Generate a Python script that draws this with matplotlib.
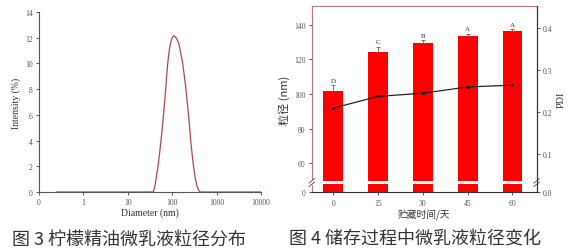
import numpy as np
import matplotlib
matplotlib.use("Agg")
import matplotlib.pyplot as plt

plt.rcParams['font.family'] = ['Liberation Serif', 'Noto Sans CJK SC', 'DejaVu Sans']

# ---- data: figure 3 (size distribution) ----
diameter_nm = [0.25, 37.5, 41, 44, 47.9, 52, 55.9, 60, 63.7, 67.5, 71.4, 75, 79.3, 85,
               91.6, 100, 108, 115, 125, 142, 156, 172, 188, 204, 218, 233, 247, 261,
               280, 302, 330, 365, 400, 423, 10000]
intensity_pct = [0, 0, 0.5, 1.2, 2, 3, 4, 5, 6, 7, 8, 9, 10, 10.9,
                 11.6, 12.0, 12.15, 12.1, 11.95, 11.5, 10.8, 10, 9, 8, 7, 6, 5, 4,
                 3, 2, 1.1, 0.4, 0.1, 0, 0]
dist_xticks = [0.1, 1, 10, 100, 1000, 10000]
dist_xticklabels = ["0", "1", "10", "100", "1000", "10000"]
dist_yticks = [0, 2, 4, 6, 8, 10, 12, 14]

# ---- data: figure 4 (storage) ----
days = [0, 15, 30, 45, 60]
size_nm = [101.9, 124.4, 129.2, 133.7, 136.5]
size_err = [3.2, 3.0, 1.8, 1.2, 1.0]
letters = ["D", "C", "B", "A", "A"]
pdi = [0.209, 0.237, 0.2445, 0.2595, 0.2636]
size_yticks = [0, 60, 80, 100, 120, 140]
pdi_yticks = [0.0, 0.1, 0.2, 0.3, 0.4]

W, H = 569, 253
fig = plt.figure(figsize=(W / 100, H / 100), dpi=100)

def rect(l, t, r, b):
    return [l / W, 1 - b / H, (r - l) / W, (b - t) / H]

tick_col = '#555555'
tfs = 5.5

# ---------------- left chart ----------------
ax1 = fig.add_axes(rect(39, 13, 261, 193))
ax1.plot(diameter_nm, intensity_pct, color='#b04848', lw=0.9)
ax1.set_xscale('log')
ax1.set_xlim(0.1, 10000)
ax1.set_ylim(0, 14)
ax1.set_xticks(dist_xticks)
ax1.set_xticklabels(dist_xticklabels)
ax1.xaxis.set_minor_locator(matplotlib.ticker.NullLocator())
ax1.set_yticks(dist_yticks)
for s in ['top', 'right']:
    ax1.spines[s].set_visible(False)
for s in ['left', 'bottom']:
    ax1.spines[s].set_color('#555555')
    ax1.spines[s].set_linewidth(0.8)
ax1.tick_params(labelsize=tfs, colors=tick_col, length=2.5, width=0.7, pad=2)
ax1.set_xlabel('Diameter (nm)', fontsize=7, color='#333333', labelpad=1)
ax1.set_ylabel('Intensity (%)', fontsize=7, color='#333333', labelpad=3)

# ---------------- right chart ----------------
def f_left(v):
    v = np.asarray(v, dtype=float)
    return np.where(v <= 40, v * 0.2,
                    np.where(v <= 50, 8 + (v - 40) * 0.35, 11.5 + (v - 50) * 1.7325))

def i_left(p):
    p = np.asarray(p, dtype=float)
    return np.where(p <= 8, p / 0.2,
                    np.where(p <= 11.5, 40 + (p - 8) / 0.35, 50 + (p - 11.5) / 1.7325))

def f_right(v):
    v = np.asarray(v, dtype=float)
    return np.where(v <= 0.035, v * (11 / 0.035), 11 + (v - 0.035) * 420)

def i_right(p):
    p = np.asarray(p, dtype=float)
    return np.where(p <= 11, p * (0.035 / 11), 0.035 + (p - 11) / 420)

ax2 = fig.add_axes(rect(311.7, 7, 536.7, 193.3))
ax2.set_yscale('function', functions=(f_left, i_left))
ax2.set_ylim(0, 150.8)
ax2.set_xlim(-7.2, 68.1)

bw = 6.67
red = '#ff0000'
ax2.bar(days, [40] * len(days), bottom=0, width=bw, color=red, zorder=2)
ax2.bar(days, [v - 50 for v in size_nm], bottom=50, width=bw, color=red, zorder=2)
ax2.errorbar(days, size_nm, yerr=[[0] * len(days), size_err], fmt='none',
             ecolor='#aa4444', elinewidth=0.6, capsize=1.5, capthick=0.6, zorder=3)
for d, v, e, l in zip(days, size_nm, size_err, letters):
    ax2.text(d, v + e + 1.2, l, ha='center', va='bottom', fontsize=5, color='#333333')

ax2.set_yticks(size_yticks)
ax2.set_xticks(days)
ax2.yaxis.set_minor_locator(matplotlib.ticker.NullLocator())
ax2.tick_params(labelsize=tfs, colors=tick_col, length=2.5, width=0.7, pad=2)
ax2.spines['top'].set_color('#c07080')
ax2.spines['left'].set_color('#c07080')
ax2.spines['bottom'].set_color('#333333')
ax2.spines['right'].set_color('#333333')
for s in ax2.spines.values():
    s.set_linewidth(0.8)
ax2.set_ylabel('粒径 (nm)', fontsize=8, color='#333333', labelpad=3,
               family=['Noto Sans CJK SC', 'Liberation Serif'])
ax2.set_xlabel('贮藏时间/天', fontsize=7, color='#333333', labelpad=2,
               family=['Noto Sans CJK SC', 'Liberation Serif'])

ax3 = ax2.twinx()
ax3.set_yscale('function', functions=(f_right, i_right))
ax3.set_ylim(0, 0.452)
ax3.plot(days, pdi, color='#222222', lw=0.9, marker='s', ms=1.3, zorder=4)
ax3.set_yticks(pdi_yticks)
ax3.set_yticklabels(['0.0', '0.1', '0.2', '0.3', '0.4'])
ax3.yaxis.set_minor_locator(matplotlib.ticker.NullLocator())
ax3.tick_params(labelsize=tfs, colors=tick_col, length=2.5, width=0.7, pad=2)
for s in ax3.spines.values():
    s.set_visible(False)
ax3.spines['right'].set_visible(True)
ax3.spines['right'].set_color('#333333')
ax3.spines['right'].set_linewidth(0.8)
ax3.set_ylabel('PDI', fontsize=7.5, color='#333333', labelpad=3)

# axis break marks
hgt = 186.3
y0, y1 = 8 / hgt, 11.5 / hgt
for xa in (0, 1):
    ax2.plot([xa, xa], [y0, y1], transform=ax2.transAxes, color='white', lw=1.6,
             clip_on=False, zorder=10)
    for yy in (y0, y1):
        ax2.plot([xa - 0.012, xa + 0.012], [yy - 0.012, yy + 0.012],
                 transform=ax2.transAxes, color='#444444', lw=0.6, clip_on=False, zorder=11)

# captions
cap_kw = dict(fontsize=13, color='#333333', va='center', ha='left', fontweight='light',
              family=['Noto Sans CJK SC', 'DejaVu Sans'])
fig.text(12 / W, 1 - 240 / H, '图 3 柠檬精油微乳液粒径分布', **cap_kw)
fig.text(289 / W, 1 - 240 / H, '图 4 储存过程中微乳液粒径变化', **cap_kw)

fig.savefig('out.png', dpi=100, facecolor='white')
